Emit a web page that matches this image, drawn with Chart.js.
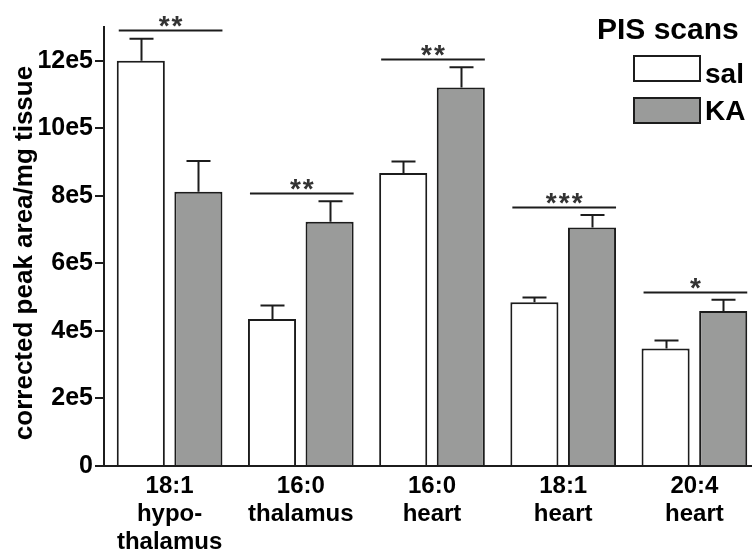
<!DOCTYPE html>
<html lang="en">
<head>
  <meta charset="UTF-8" />
  <title>PIS scans</title>
  <script src="https://cdn.jsdelivr.net/npm/chart.js"></script>
  <style>
    html, body { margin: 0; padding: 0; background: #fff; overflow: hidden; }
    #wrap { width: 760px; height: 554px; }
    canvas { display: block; }
  </style>
</head>
<body>
  <div id="wrap"><canvas id="pisChart" width="760" height="554"></canvas></div>

  <script>
    // values
    const categories = [['18:1', 'hypo-', 'thalamus'], ['16:0', 'thalamus'], ['16:0', 'heart'], ['18:1', 'heart'], ['20:4', 'heart']];
    const seriesNames = ['sal', 'KA'];
    const salMeans = [12.0e5, 4.35e5, 8.68e5, 4.85e5, 3.48e5];
    const salErr = [0.65e5, 0.40e5, 0.34e5, 0.14e5, 0.24e5];
    const kaMeans = [8.12e5, 7.23e5, 11.21e5, 7.06e5, 4.59e5];
    const kaErr = [0.91e5, 0.61e5, 0.60e5, 0.37e5, 0.33e5];
    const sigLabels = ['**', '**', '**', '***', '*'];
    const sigLevels = [12.92e5, 8.09e5, 12.06e5, 7.67e5, 5.16e5];
    const yTickValues = [0, 2e5, 4e5, 6e5, 8e5, 10e5, 12e5];
    const yMax = 13e5;

    const FONT = '"Liberation Sans", Arial, Helvetica, sans-serif';
    const INK = '#1c1c1c';

    function tickText(v) {
      return v === 0 ? '0' : (v / 1e5) + 'e5';
    }

    // error bars, significance brackets, legend and y title
    const extras = {
      id: 'extras',
      afterDatasetsDraw(chart) {
        const ctx = chart.ctx;
        const y = chart.scales.y;
        const errs = [salErr, kaErr];
        ctx.save();
        ctx.strokeStyle = INK;
        ctx.lineWidth = 2;
        chart.data.datasets.forEach((ds, di) => {
          const meta = chart.getDatasetMeta(di);
          meta.data.forEach((bar, i) => {
            const top = y.getPixelForValue(ds.data[i] + errs[di][i]);
            const x = Math.round(bar.x) + 0.5;
            ctx.beginPath();
            ctx.moveTo(x, bar.y);
            ctx.lineTo(x, top);
            ctx.moveTo(x - 12, top);
            ctx.lineTo(x + 12, top);
            ctx.stroke();
          });
        });

        // significance lines
        const m0 = chart.getDatasetMeta(0), m1 = chart.getDatasetMeta(1);
        ctx.fillStyle = '#333';
        ctx.textAlign = 'center';
        ctx.textBaseline = 'alphabetic';
        ctx.font = 'bold 28px ' + FONT;
        ctx.letterSpacing = '2px';
        sigLevels.forEach((lvl, i) => {
          const ly = Math.round(y.getPixelForValue(lvl)) + 0.5;
          const x0 = m0.data[i].x - m0.data[i].width / 2 + 2;
          const x1 = m1.data[i].x + m1.data[i].width / 2;
          ctx.beginPath();
          ctx.moveTo(x0, ly);
          ctx.lineTo(x1, ly);
          ctx.stroke();
          ctx.fillText(sigLabels[i], (x0 + x1) / 2 + 1, ly + 4);
        });
        ctx.letterSpacing = '0px';

        // legend
        ctx.fillStyle = '#000';
        ctx.textAlign = 'left';
        ctx.font = 'bold 30px ' + FONT;
        ctx.fillText('PIS scans', 597, 39);
        ctx.font = 'bold 28px ' + FONT;
        const boxes = [[56, 83], [98, 120]];
        chart.data.datasets.forEach((ds, di) => {
          const [by, base] = boxes[di];
          ctx.fillStyle = ds.backgroundColor;
          ctx.fillRect(634, by, 66, 25);
          ctx.strokeRect(634, by, 66, 25);
          ctx.fillStyle = '#000';
          ctx.fillText(seriesNames[di], 705, base);
        });

        // y axis title
        ctx.translate(32, 253);
        ctx.rotate(-Math.PI / 2);
        ctx.textAlign = 'center';
        ctx.font = 'bold 26px ' + FONT;
        ctx.fillText('corrected peak area/mg tissue', 0, 0);
        ctx.restore();
      }
    };

    new Chart(document.getElementById('pisChart'), {
      type: 'bar',
      data: {
        labels: categories,
        datasets: [
          { label: seriesNames[0], data: salMeans, backgroundColor: '#ffffff', borderColor: INK, borderWidth: 2 },
          { label: seriesNames[1], data: kaMeans, backgroundColor: '#9a9b9a', borderColor: INK, borderWidth: 2 }
        ]
      },
      options: {
        responsive: false,
        animation: false,
        categoryPercentage: 0.878,
        barPercentage: 0.835,
        layout: { padding: { top: 27, left: 0, right: 0, bottom: 0 } },
        plugins: { legend: { display: false }, tooltip: { enabled: false } },
        scales: {
          x: {
            grid: { display: false, drawTicks: false },
            border: { display: true, color: INK, width: 2 },
            ticks: { color: '#000', padding: 6, maxRotation: 0, autoSkip: false,
                     font: { family: FONT, size: 24, weight: 'bold', lineHeight: 1.17 } },
            afterFit(scale) { scale.height = 88; }
          },
          y: {
            min: 0,
            max: yMax,
            grid: { drawOnChartArea: false, drawTicks: true, tickLength: 9, color: INK, lineWidth: 2 },
            border: { display: true, color: INK, width: 2 },
            ticks: { stepSize: 2e5, includeBounds: false, padding: 2, color: '#000',
                     font: { family: FONT, size: 25, weight: 'bold' },
                     callback: v => tickText(v) },
            afterBuildTicks(scale) { scale.ticks = yTickValues.map(v => ({ value: v })); },
            afterFit(scale) { scale.width = 104; }
          }
        }
      },
      plugins: [extras]
    });
  </script>
</body>
</html>
